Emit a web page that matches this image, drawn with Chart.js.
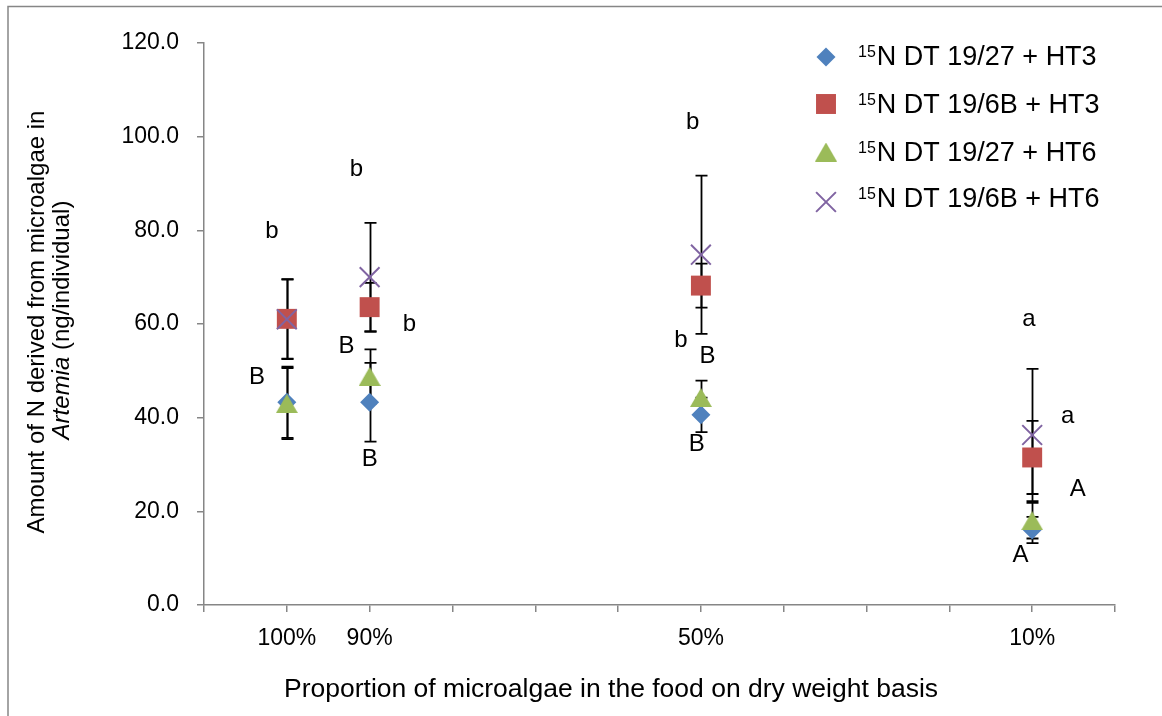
<!DOCTYPE html>
<html><head><meta charset="utf-8">
<script src="https://cdn.jsdelivr.net/npm/chart.js@4/dist/chart.umd.min.js"></script>
<style>html,body{margin:0;padding:0;background:#fff;overflow:hidden}#wrap{width:1162px;height:716px;position:relative}</style>
</head><body><div id="wrap"><canvas id="c" width="1162" height="716"></canvas></div>
<script>
// ---- data ----
const categories = ['100%', '90%', '50%', '10%'];
const categoryPos = [1, 2, 6, 10];
const seriesIsotope = '15';
const seriesLabels = ['N DT 19/27 + HT3', 'N DT 19/6B + HT3', 'N DT 19/27 + HT6', 'N DT 19/6B + HT6'];
const diamondValues = [43.3, 43.3, 40.6, 16.0];
const diamondErrors = [7.6, 8.4, 3.7, 2.8];
const squareValues = [61.1, 63.6, 68.2, 31.5];
const squareErrors = [8.5, 5.2, 4.7, 7.8];
const triangleValues = [43.0, 48.8, 44.3, 18.0];
const triangleErrors = [7.6, 5.8, 3.6, 3.8];
const crossValues = [61.0, 70.0, 74.8, 36.3];
const crossErrors = [8.5, 11.6, 16.9, 14.1];
const yTickValues = [0, 20, 40, 60, 80, 100, 120];
const letterText = ['b', 'B', 'b', 'B', 'b', 'B', 'b', 'b', 'B', 'B', 'a', 'a', 'A', 'A'];
const letterX = [0.82, 0.64, 1.84, 1.72, 2.48, 2.0, 5.9, 5.76, 6.08, 5.95, 9.96, 10.43, 10.55, 9.86];
const letterY = [79.7, 48.7, 93.0, 55.3, 60.0, 31.2, 103.0, 56.4, 53.0, 34.2, 60.9, 40.2, 24.6, 10.5];
const xTitle = 'Proportion of microalgae in the food on dry weight basis';
const yTitle1 = 'Amount of N derived from microalgae in';
const yTitle2a = 'Artemia';
const yTitle2b = ' (ng/individual)';

// ---- styles ----
const FONT = '"Liberation Sans", Arial, sans-serif';
const AXIS = '#868686';
const colors = ['#4F81BD', '#C0504D', '#9BBB59', '#8064A2'];

function triangleImage(color) {
  const w = 22, h = 19;
  const cv = document.createElement('canvas');
  cv.width = w; cv.height = h;
  const g = cv.getContext('2d');
  g.fillStyle = color;
  g.beginPath();
  g.moveTo(w / 2, 0); g.lineTo(w, h); g.lineTo(0, h); g.closePath();
  g.fill();
  return cv;
}
const triImg = triangleImage(colors[2]);

function pts(vals) { return categoryPos.map((x, i) => ({ x: x, y: vals[i] })); }

const datasets = [
  { label: seriesLabels[0], data: pts(diamondValues), errors: diamondErrors, pointStyle: 'rectRot', pointRadius: 9.5, backgroundColor: colors[0], borderColor: colors[0], borderWidth: 0 },
  { label: seriesLabels[1], data: pts(squareValues), errors: squareErrors, pointStyle: 'rect', pointRadius: 14.1, backgroundColor: colors[1], borderColor: colors[1], borderWidth: 0 },
  { label: seriesLabels[2], data: pts(triangleValues), errors: triangleErrors, pointStyle: triImg, pointRadius: 10, backgroundColor: colors[2], borderColor: colors[2], borderWidth: 0 },
  { label: seriesLabels[3], data: pts(crossValues), errors: crossErrors, pointStyle: 'crossRot', pointRadius: 14, backgroundColor: colors[3], borderColor: colors[3], borderWidth: 2 }
];
datasets.forEach((d, i) => { d.showLine = false; d.pointHoverRadius = d.pointRadius; d.order = datasets.length - 1 - i; });

const frame = {
  id: 'frame',
  beforeDraw(chart) {
    const c = chart.ctx;
    c.save();
    c.fillStyle = '#fff';
    c.fillRect(0, 0, chart.width, chart.height);
    c.strokeStyle = AXIS; c.lineWidth = 1.5;
    c.strokeRect(8, 6.5, 1300, 900);
    c.restore();
  }
};

const errorBars = {
  id: 'errorBars',
  beforeDatasetsDraw(chart) {
    const c = chart.ctx, xs = chart.scales.x, ys = chart.scales.y;
    c.save();
    c.strokeStyle = '#000'; c.lineWidth = 1.8;
    chart.data.datasets.forEach(ds => {
      ds.data.forEach((p, i) => {
        const e = ds.errors[i];
        if (e == null) return;
        const px = Math.round(xs.getPixelForValue(p.x)) + 0.5;
        const top = ys.getPixelForValue(p.y + e), bot = ys.getPixelForValue(p.y - e);
        c.beginPath();
        c.moveTo(px, top); c.lineTo(px, bot);
        c.moveTo(px - 6, top); c.lineTo(px + 6, top);
        c.moveTo(px - 6, bot); c.lineTo(px + 6, bot);
        c.stroke();
      });
    });
    c.restore();
  }
};

const texts = {
  id: 'texts',
  afterDraw(chart) {
    const c = chart.ctx, xs = chart.scales.x, ys = chart.scales.y;
    c.save();
    c.fillStyle = '#000';
    // significance letters
    c.font = '24px ' + FONT;
    c.textAlign = 'center'; c.textBaseline = 'middle';
    letterText.forEach((t, i) => c.fillText(t, xs.getPixelForValue(letterX[i]), ys.getPixelForValue(letterY[i])));
    // x title
    c.font = '26.5px ' + FONT;
    c.textAlign = 'center'; c.textBaseline = 'middle';
    c.fillText(xTitle, 611, 690);
    // y title
    c.save();
    c.translate(37, 322);
    c.rotate(-Math.PI / 2);
    c.font = '24px ' + FONT;
    c.fillText(yTitle1, 0, 0);
    c.restore();
    c.save();
    c.translate(62, 320);
    c.rotate(-Math.PI / 2);
    c.textAlign = 'left';
    c.font = 'italic 24px ' + FONT;
    const wa = c.measureText(yTitle2a).width;
    c.font = '24px ' + FONT;
    const wb = c.measureText(yTitle2b).width;
    const start = -(wa + wb) / 2;
    c.font = 'italic 24px ' + FONT;
    c.fillText(yTitle2a, start, 0);
    c.font = '24px ' + FONT;
    c.fillText(yTitle2b, start + wa, 0);
    c.restore();
    // legend
    const markerX = 826, markerY = [57, 104, 152, 202], textY = [55, 103, 151, 197];
    chart.data.datasets.forEach((ds, i) => {
      c.save();
      c.fillStyle = ds.backgroundColor; c.strokeStyle = ds.borderColor;
      c.lineWidth = ds.borderWidth;
      Chart.helpers.drawPoint(c, { pointStyle: ds.pointStyle, radius: ds.pointRadius, borderWidth: ds.borderWidth, rotation: 0 }, markerX, markerY[i]);
      c.restore();
      const base = textY[i] + 9.7;
      c.textAlign = 'left'; c.textBaseline = 'alphabetic';
      c.font = '16px ' + FONT;
      c.fillText(seriesIsotope, 858, base - 8);
      const sw = c.measureText(seriesIsotope).width;
      c.font = '27px ' + FONT;
      c.fillText(ds.label, 858 + sw + 1, base);
    });
    c.restore();
  }
};

new Chart(document.getElementById('c'), {
  type: 'scatter',
  data: { datasets: datasets },
  options: {
    responsive: false,
    animation: false,
    devicePixelRatio: 1,
    layout: { padding: { left: 0, top: 43, right: 47, bottom: 0 } },
    plugins: { legend: { display: false }, tooltip: { enabled: false } },
    scales: {
      x: {
        type: 'linear', min: 0, max: 11,
        afterFit(s) { s.height = 111; },
        afterBuildTicks(s) { s.ticks = Array.from({ length: 12 }, (_, i) => ({ value: i })); },
        ticks: {
          autoSkip: false, maxRotation: 0, padding: 13,
          color: '#000', font: { size: 23, family: FONT },
          callback: v => { const i = categoryPos.indexOf(v); return i >= 0 ? categories[i] : ''; }
        },
        grid: { drawOnChartArea: false, drawTicks: true, tickLength: 7, color: AXIS, lineWidth: 1.5 },
        border: { display: true, color: AXIS, width: 1.5 }
      },
      y: {
        min: 0, max: 120,
        afterFit(s) { s.width = 204; },
        afterBuildTicks(s) { s.ticks = yTickValues.map(v => ({ value: v })); },
        ticks: {
          padding: 18, color: '#000', font: { size: 23, family: FONT },
          callback: v => Number(v).toFixed(1)
        },
        grid: { drawOnChartArea: false, drawTicks: true, tickLength: 7, color: AXIS, lineWidth: 1.5 },
        border: { display: true, color: AXIS, width: 1.5 }
      }
    }
  },
  plugins: [frame, errorBars, texts]
});
</script></body></html>
